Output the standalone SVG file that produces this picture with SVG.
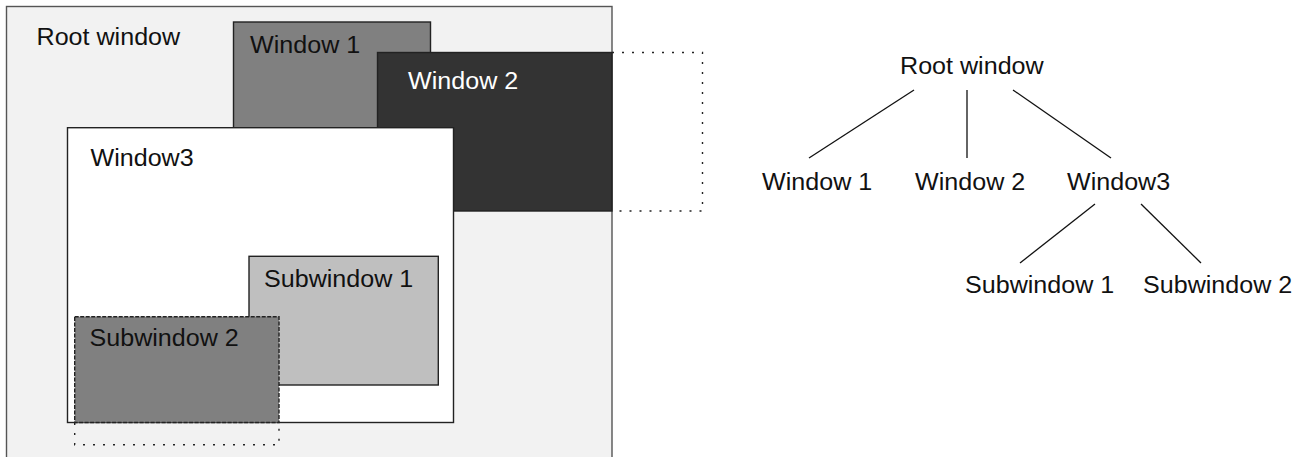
<svg xmlns="http://www.w3.org/2000/svg" width="1309" height="457" viewBox="0 0 1309 457">
  <style>
    text { font-family: "Liberation Sans", Arial, sans-serif; font-size: 23px; fill: #111; }
    .light { fill: #ffffff; }
    .win { stroke: #222; stroke-width: 1.4; }
    .root { fill: #f2f2f2; stroke: #555; stroke-width: 1.4; }
    .dots { fill: none; stroke: #222; stroke-width: 1.4; stroke-dasharray: 2 8; }
    .edge { stroke: #111; stroke-width: 1.3; fill: none; }
  </style>
  <rect width="1309" height="457" fill="#ffffff"/>

  <!-- Window layout on screen -->
  <g id="screen-root">
    <rect class="root" x="6.5" y="6.5" width="605.5" height="460"/>
    <text x="36.5" y="45" textLength="143.7" lengthAdjust="spacingAndGlyphs">Root window</text>
  </g>
  <g id="screen-window1">
    <rect class="win" x="233.5" y="22" width="197" height="200" fill="#808080"/>
    <text x="250" y="52.5" textLength="110.2" lengthAdjust="spacingAndGlyphs">Window 1</text>
  </g>
  <g id="screen-window2">
    <rect class="win" x="377.5" y="52.5" width="234.5" height="158.5" fill="#333333"/>
    <path class="dots" d="M612 52.5 H702.5 V211 H612"/>
    <text class="light" x="408" y="89" textLength="110.2" lengthAdjust="spacingAndGlyphs">Window 2</text>
  </g>
  <g id="screen-window3">
    <rect class="win" x="67.5" y="127.7" width="386" height="294.8" fill="#ffffff"/>
    <text x="90.5" y="165.7" textLength="103.2" lengthAdjust="spacingAndGlyphs">Window3</text>
  </g>
  <g id="screen-subwindow1">
    <rect class="win" x="249" y="256.3" width="189.3" height="128.7" fill="#bfbfbf"/>
    <text x="264" y="287" textLength="149.3" lengthAdjust="spacingAndGlyphs">Subwindow 1</text>
  </g>
  <g id="screen-subwindow2">
    <rect x="74.7" y="316.7" width="204.3" height="105.8" fill="#808080" stroke="#222" stroke-width="1.4" stroke-dasharray="4 1.5"/>
    <path class="dots" d="M74.7 423 V444.7 H279 V423"/>
    <text x="89.5" y="346" textLength="149.3" lengthAdjust="spacingAndGlyphs">Subwindow 2</text>
  </g>

  <!-- Window hierarchy tree -->
  <g id="tree-edges">
    <line class="edge" x1="914" y1="90" x2="809" y2="158"/>
    <line class="edge" x1="967" y1="90" x2="967" y2="158"/>
    <line class="edge" x1="1013" y1="90" x2="1111" y2="158"/>
    <line class="edge" x1="1095" y1="204" x2="1020" y2="263"/>
    <line class="edge" x1="1141" y1="204" x2="1201" y2="263"/>
  </g>
  <g id="tree-root">
    <text x="900" y="74" textLength="143.7" lengthAdjust="spacingAndGlyphs">Root window</text>
  </g>
  <g id="tree-window1">
    <text x="762" y="190" textLength="110.2" lengthAdjust="spacingAndGlyphs">Window 1</text>
  </g>
  <g id="tree-window2">
    <text x="915" y="190" textLength="110.2" lengthAdjust="spacingAndGlyphs">Window 2</text>
  </g>
  <g id="tree-window3">
    <text x="1067" y="190" textLength="103.2" lengthAdjust="spacingAndGlyphs">Window3</text>
  </g>
  <g id="tree-subwindow1">
    <text x="965" y="293" textLength="149.3" lengthAdjust="spacingAndGlyphs">Subwindow 1</text>
  </g>
  <g id="tree-subwindow2">
    <text x="1143" y="293" textLength="149.3" lengthAdjust="spacingAndGlyphs">Subwindow 2</text>
  </g>
</svg>
